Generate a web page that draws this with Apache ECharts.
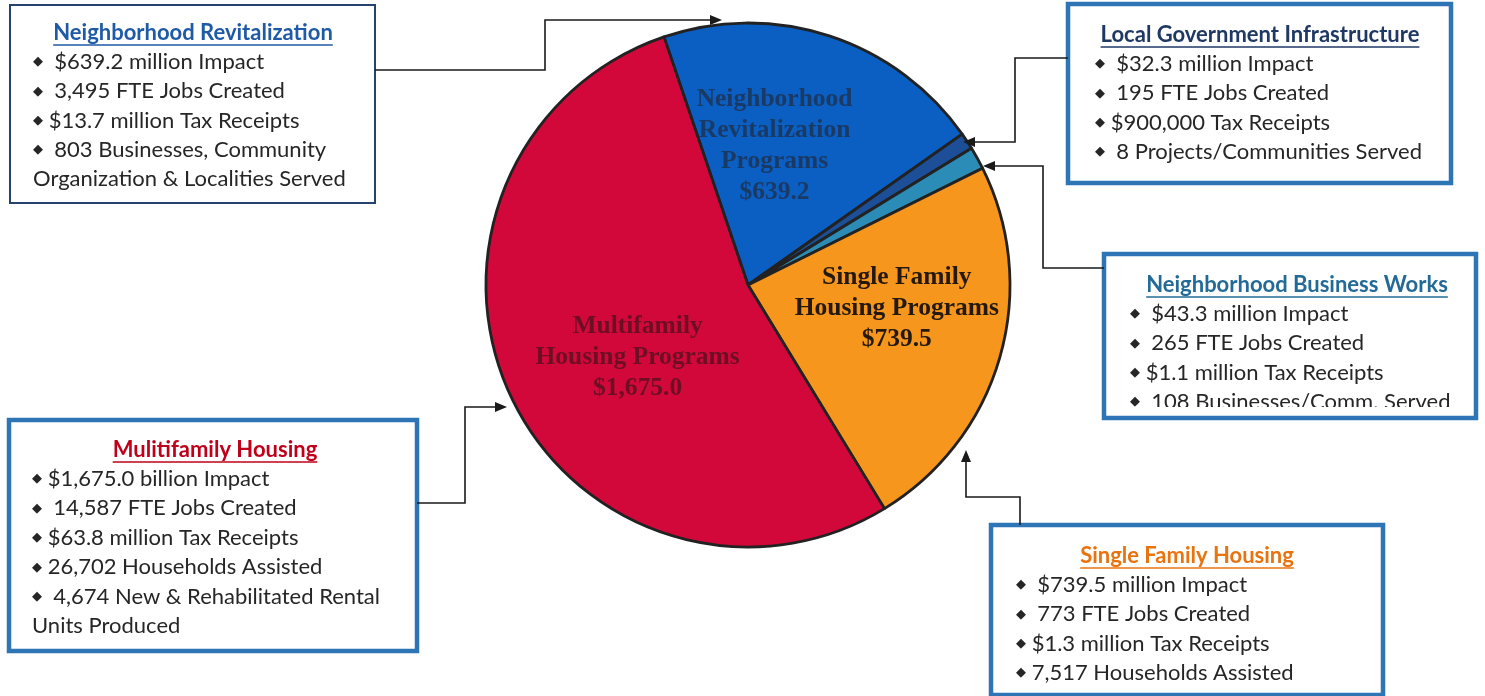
<!DOCTYPE html>
<html>
<head>
<meta charset="utf-8">
<script src="https://cdn.jsdelivr.net/npm/echarts@6/dist/echarts.min.js"></script>
<style>
  html, body { margin: 0; padding: 0; background: #ffffff; }
  #chart { width: 1485px; height: 696px; }
</style>
</head>
<body>
<div id="chart"></div>
<script>
// Program impact by line of business ($ millions)
const sliceNames = [
  'Neighborhood\nRevitalization\nPrograms',
  'Local Government Infrastructure',
  'Neighborhood Business Works',
  'Single Family\nHousing Programs',
  'Multifamily\nHousing Programs'
];
const sliceValues = [639.2, 32.3, 43.3, 739.5, 1675.0];
const sliceShowLabel = [true, false, false, true, true];

// Callout box texts
const nrTitle = 'Neighborhood Revitalization';
const nrLines = [
  '◆  $639.2 million Impact',
  '◆  3,495 FTE Jobs Created',
  '◆ $13.7 million Tax Receipts',
  '◆  803 Businesses, Community',
  'Organization & Localities Served'
];
const lgiTitle = 'Local Government Infrastructure';
const lgiLines = [
  '◆  $32.3 million Impact',
  '◆  195 FTE Jobs Created',
  '◆ $900,000 Tax Receipts',
  '◆  8 Projects/Communities Served'
];
const nbwTitle = 'Neighborhood Business Works';
const nbwLines = [
  '◆  $43.3 million Impact',
  '◆  265 FTE Jobs Created',
  '◆ $1.1 million Tax Receipts',
  '◆  108 Businesses/Comm. Served'
];
const mfTitle = 'Mulitifamily Housing';
const mfLines = [
  '◆ $1,675.0 billion Impact',
  '◆  14,587 FTE Jobs Created',
  '◆ $63.8 million Tax Receipts',
  '◆ 26,702 Households Assisted',
  '◆  4,674 New & Rehabilitated Rental',
  'Units Produced'
];
const sfTitle = 'Single Family Housing';
const sfLines = [
  '◆  $739.5 million Impact',
  '◆  773 FTE Jobs Created',
  '◆ $1.3 million Tax Receipts',
  '◆ 7,517 Households Assisted'
];

// ---- styling ----
const sliceColors = ['#0B5FC2', '#1D4F98', '#2C8CB8', '#F7961C', '#D3083A'];
const sliceLabelColors = ['rgba(35,35,45,0.62)', null, null, '#24190f', 'rgba(45,20,25,0.62)'];
const labelShift = [[-15, -12], [0, 0], [0, 0], [20, -14], [11, 16]];

const bodyFont = 'Lato, "Open Sans", sans-serif';
const bodySize = 22;
const textColor = '#262626';

const boxes = [
  { x: 10, y: 5, w: 365, h: 198, stroke: '#26426e', lw: 2,
    title: nrTitle, titleColor: '#1F5AA6', cx: 193, ty: 33,
    lx: 33, ly: 62, step: 29.3, lines: nrLines },
  { x: 1068, y: 4, w: 383, h: 179, stroke: '#2E75B6', lw: 4.5,
    title: lgiTitle, titleColor: '#1F3864', cx: 1260, ty: 35,
    lx: 1095, ly: 64, step: 29.3, lines: lgiLines },
  { x: 1104, y: 254, w: 372, h: 164, stroke: '#2E75B6', lw: 4.5,
    title: nbwTitle, titleColor: '#236B96', cx: 1297, ty: 285,
    lx: 1130, ly: 314, step: 29.3, lines: nbwLines, clipBottom: true },
  { x: 9, y: 420, w: 408, h: 231, stroke: '#2E75B6', lw: 4.5,
    title: mfTitle, titleColor: '#C0001A', cx: 215, ty: 450,
    lx: 32, ly: 479, step: 29.4, lines: mfLines },
  { x: 991, y: 525, w: 392, h: 170, stroke: '#2E75B6', lw: 4.5,
    title: sfTitle, titleColor: '#E8730F', cx: 1187, ty: 556,
    lx: 1016, ly: 585, step: 29.3, lines: sfLines }
];

const connectors = [
  { pts: [[375, 70], [545, 70], [545, 20], [710, 20]], tip: [722, 20], dir: 'right' },
  { pts: [[1068, 58], [1015, 58], [1015, 142], [975, 142]], tip: [963, 142], dir: 'left' },
  { pts: [[1104, 268], [1043, 268], [1043, 166], [995, 166]], tip: [983, 166], dir: 'left' },
  { pts: [[417, 503], [465, 503], [465, 407], [495, 407]], tip: [507, 407], dir: 'right' },
  { pts: [[1020, 525], [1020, 497], [966, 497], [966, 462]], tip: [966, 450], dir: 'up' }
];

function measure(text, font) {
  const c = document.createElement('canvas').getContext('2d');
  c.font = font;
  return c.measureText(text).width;
}

function fmtMoney(v) {
  return '$' + v.toLocaleString('en-US', { minimumFractionDigits: 1, maximumFractionDigits: 1 });
}

function arrowHead(tip, dir) {
  const L = 12, H = 5;
  const [x, y] = tip;
  let pts;
  if (dir === 'right') pts = [[x, y], [x - L, y - H], [x - L, y + H]];
  else if (dir === 'left') pts = [[x, y], [x + L, y - H], [x + L, y + H]];
  else pts = [[x, y], [x - H, y + L], [x + H, y + L]];
  return { type: 'polygon', shape: { points: pts }, style: { fill: '#1a1a1a' }, z: 20 };
}

const graphics = [];

connectors.forEach(c => {
  graphics.push({ type: 'polyline', shape: { points: c.pts },
    style: { stroke: '#1a1a1a', lineWidth: 1.6, fill: null }, z: 20 });
  graphics.push(arrowHead(c.tip, c.dir));
});

boxes.forEach(b => {
  graphics.push({ type: 'rect', shape: { x: b.x, y: b.y, width: b.w, height: b.h },
    style: { fill: '#ffffff', stroke: null }, z: 10 });
  const titleFont = 'bold ' + bodySize + 'px ' + bodyFont;
  const tw = measure(b.title, titleFont);
  graphics.push({ type: 'text', x: b.cx, y: b.ty, z: 12,
    style: { text: b.title, font: titleFont, fill: b.titleColor,
      textAlign: 'center', textVerticalAlign: 'middle' } });
  graphics.push({ type: 'line', z: 12,
    shape: { x1: b.cx - tw / 2, y1: b.ty + 12, x2: b.cx + tw / 2, y2: b.ty + 12 },
    style: { stroke: b.titleColor, lineWidth: 1.5 } });
  b.lines.forEach((t, i) => {
    const y = b.ly + i * b.step;
    let txt;
    if (t.charAt(0) === '◆') {
      txt = '{b|◆}{t|' + t.slice(1) + '}';
    } else {
      txt = '{t|' + t + '}';
    }
    graphics.push({ type: 'text', x: b.lx, y: y, z: 12,
      style: { text: txt, textVerticalAlign: 'middle',
        rich: {
          b: { fontSize: 13, fill: textColor, fontFamily: 'DejaVu Sans' },
          t: { fontSize: bodySize, fill: textColor, fontFamily: bodyFont }
        } } });
  });
  if (b.clipBottom) {
    graphics.push({ type: 'rect', z: 13,
      shape: { x: b.x + 3, y: b.y + b.h - 11, width: b.w - 6, height: 11 },
      style: { fill: '#ffffff' } });
  }
  graphics.push({ type: 'rect', z: 14,
    shape: { x: b.x, y: b.y, width: b.w, height: b.h },
    style: { fill: null, stroke: b.stroke, lineWidth: b.lw } });
});

const chart = echarts.init(document.getElementById('chart'), null, { renderer: 'canvas' });
chart.setOption({
  backgroundColor: '#ffffff',
  animation: false,
  graphic: graphics,
  series: [{
    type: 'pie',
    center: [748, 285],
    radius: [0, 262],
    startAngle: 108.7,
    clockwise: true,
    avoidLabelOverlap: false,
    silent: true,
    itemStyle: { borderColor: '#222222', borderWidth: 2.8 },
    label: {
      show: true,
      position: 'inside',
      fontFamily: '"Liberation Serif", "DejaVu Serif", serif',
      fontWeight: 'bold',
      fontSize: 25.5,
      lineHeight: 31,
      align: 'center',
      formatter: p => p.name + '\n' + fmtMoney(p.value)
    },
    labelLine: { show: false },
    labelLayout: p => ({ dx: labelShift[p.dataIndex][0], dy: labelShift[p.dataIndex][1] }),
    data: sliceValues.map((v, i) => ({
      name: sliceNames[i],
      value: v,
      itemStyle: { color: sliceColors[i] },
      label: sliceShowLabel[i] ? { color: sliceLabelColors[i] } : { show: false }
    }))
  }]
});
</script>
</body>
</html>
